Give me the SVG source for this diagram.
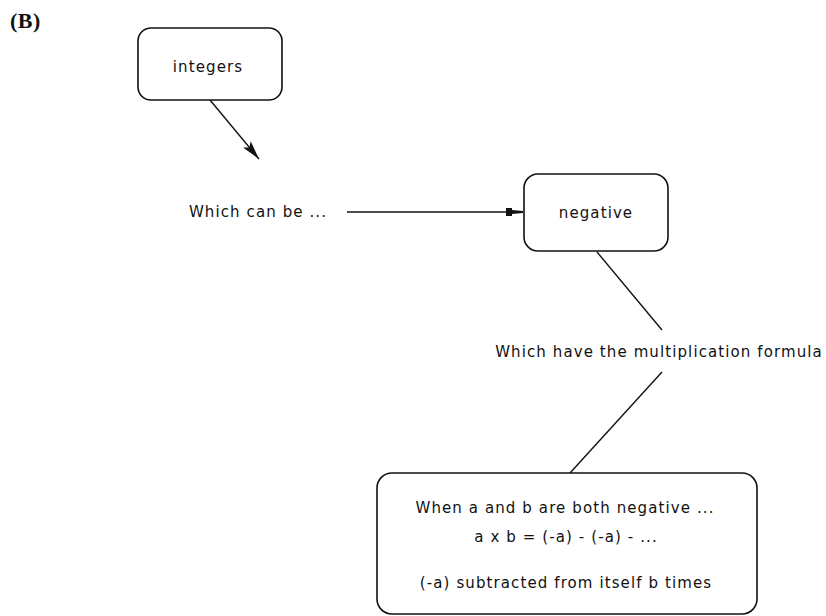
<svg xmlns="http://www.w3.org/2000/svg" width="826" height="616" viewBox="0 0 826 616">
<style>
.box{fill:#fff;stroke:#111;stroke-width:1.6}
.t{font-family:"DejaVu Sans",Verdana,sans-serif;font-size:15px;letter-spacing:1.1px;fill:#111;text-anchor:middle}
.c{stroke:#111;stroke-width:1.4;fill:none}
</style>
<defs>
<marker id="ah" markerWidth="20" markerHeight="10" refX="19" refY="5" orient="auto" markerUnits="userSpaceOnUse">
<path d="M0,0 L19,5 L0,10 L4,5 Z" fill="#111"/>
</marker>
<marker id="sq" markerWidth="18" markerHeight="10" refX="17" refY="5" orient="auto" markerUnits="userSpaceOnUse">
<path d="M0,1 L6,1 L6,3 L17,4 L17,6 L6,7 L6,9 L0,9 Z" fill="#111"/>
</marker>
</defs>
<rect width="826" height="616" fill="#fff"/>
<text x="10" y="28" font-family="Liberation Serif,serif" font-weight="bold" font-size="22" letter-spacing="0.5" fill="#111">(B)</text>
<g id="connectors">
<line class="c" x1="210" y1="100" x2="259" y2="159" marker-end="url(#ah)"/>
<line class="c" x1="347" y1="212" x2="523" y2="212" marker-end="url(#sq)"/>
<line class="c" x1="597" y1="252" x2="662" y2="330"/>
<line class="c" x1="662" y1="372" x2="570" y2="473"/>
</g>
<g id="integers">
<rect class="box" x="138" y="28" width="144" height="72" rx="13"/>
<text class="t" x="208" y="72">integers</text>
</g>
<g id="which-can-be">
<text class="t" x="258" y="217">Which can be ...</text>
</g>
<g id="negative">
<rect class="box" x="524" y="174" width="144" height="77" rx="14"/>
<text class="t" x="596" y="218">negative</text>
</g>
<g id="which-have">
<text class="t" x="659" y="357">Which have the multiplication formula</text>
</g>
<g id="formula">
<rect class="box" x="377" y="473" width="380" height="141" rx="15"/>
<text class="t" x="565" y="513">When a and b are both negative ...</text>
<text class="t" x="566" y="542">a x b = (-a) - (-a) - ...</text>
<text class="t" x="566" y="588">(-a) subtracted from itself b times</text>
</g>
</svg>
